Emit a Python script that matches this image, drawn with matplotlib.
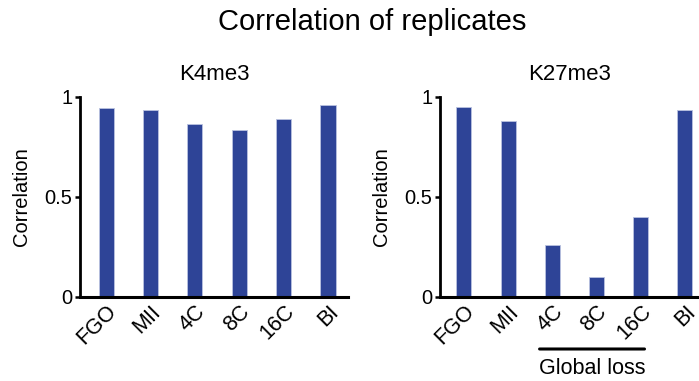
import matplotlib
matplotlib.use("Agg")
import matplotlib.pyplot as plt

plt.rcParams["font.family"] = ["Liberation Sans", "DejaVu Sans"]

stages = ["FGO", "MII", "4C", "8C", "16C", "BI"]
k4me3 = [0.945, 0.935, 0.865, 0.835, 0.89, 0.96]
k27me3 = [0.95, 0.88, 0.26, 0.10, 0.40, 0.935]
loss_stages = ["4C", "16C"]

bar_color = "#2E4497"

fig = plt.figure(figsize=(6.99, 3.81), dpi=100)
ax1 = fig.add_axes([80 / 699, 1 - 297 / 381, 268 / 699, 200 / 381])
ax2 = fig.add_axes([440 / 699, 1 - 297 / 381, 259 / 699, 200 / 381])


def style_panel(ax, values, title, xlim):
    x = range(len(stages))
    ax.bar(x, values, width=0.34, color=bar_color, edgecolor="#b9c2e0", linewidth=0.6)
    ax.set_xlim(*xlim)
    ax.set_ylim(0, 1)
    ax.set_yticks([0, 0.5, 1])
    ax.set_yticklabels(["0", "0.5", "1"], fontsize=14.5)
    ax.set_xticks(list(x))
    ax.set_xticklabels(stages, rotation=45, ha="right", rotation_mode="anchor", fontsize=15.5)
    ax.tick_params(axis="x", length=0, pad=3)
    ax.tick_params(axis="y", length=3.5, width=1.8, pad=2)
    for s in ["top", "right"]:
        ax.spines[s].set_visible(False)
    ax.spines["left"].set_linewidth(2.0)
    ax.spines["bottom"].set_linewidth(2.2)
    ax.set_ylabel("Correlation", fontsize=14.5, labelpad=10)
    ax.set_title(title, fontsize=16, pad=12)


style_panel(ax1, k4me3, "K4me3", (-0.59, 5.45))
style_panel(ax2, k27me3, "K27me3", (-0.54, 5.32))

# bracket under the stages where K27me3 is lost
i0, i1 = stages.index(loss_stages[0]), stages.index(loss_stages[1])
ax2.annotate("", xy=(i0 - 0.35, -0.26), xytext=(i1 + 0.15, -0.26),
             xycoords=("data", "axes fraction"), textcoords=("data", "axes fraction"),
             arrowprops=dict(arrowstyle="-", lw=2.2))
ax2.text((i0 + i1) / 2 - 0.1, -0.36, "Global loss", transform=ax2.get_xaxis_transform(),
         ha="center", va="center", fontsize=15.5)

fig.text(372 / 699, 1 - 22 / 381, "Correlation of replicates", ha="center", va="center", fontsize=21)

fig.savefig("out.png", dpi=100)
